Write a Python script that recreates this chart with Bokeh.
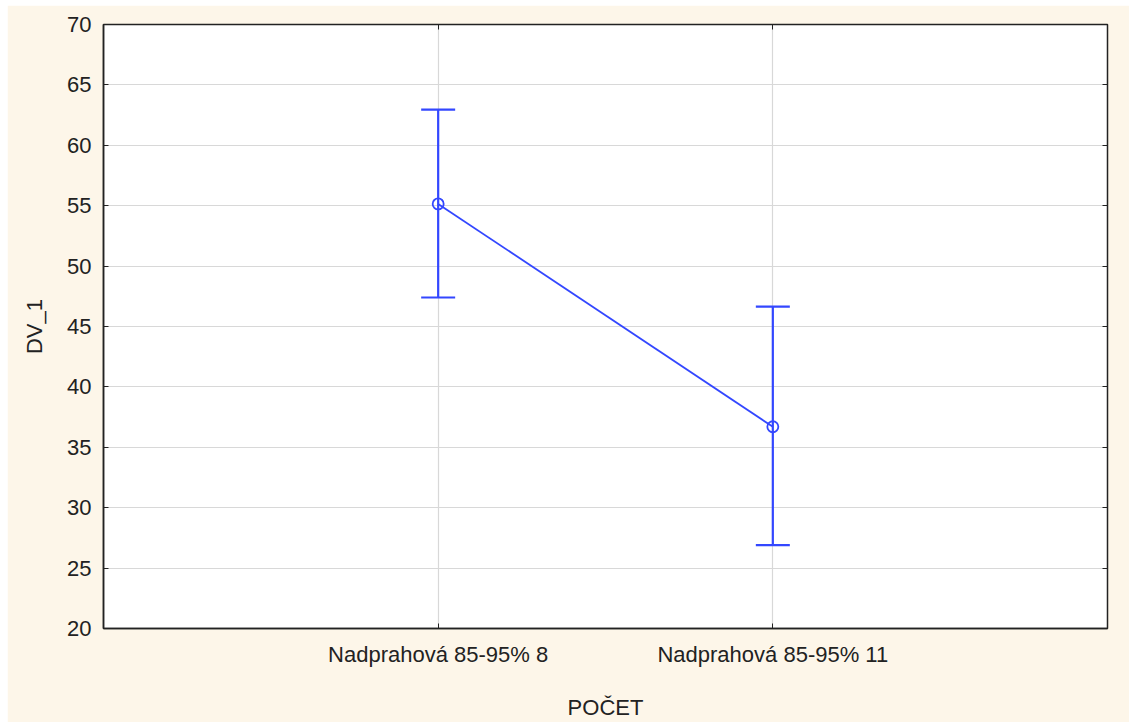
from bokeh.plotting import figure
from bokeh.models import (ColumnDataSource, FixedTicker, LinearAxis, Range1d,
                          Whisker, TeeHead, CustomLabelingPolicy)
from bokeh.embed import file_html
from bokeh.resources import INLINE

# Group means of DV_1 with confidence intervals
categories = ["Nadprahová 85-95% 8", "Nadprahová 85-95% 11"]
means = [55.15, 36.7]
upper = [62.95, 46.65]
lower = [47.4, 26.9]
y_ticks = [20, 25, 30, 35, 40, 45, 50, 55, 60, 65, 70]

xs = list(range(1, len(categories) + 1))
src = ColumnDataSource(dict(x=xs, mean=means, upper=upper, lower=lower))

BLUE = "#3347ff"
CREAM = "#fdf6e9"
INK = "#222222"
FONT = "Liberation Sans"

p = figure(width=1122, height=717, output_backend="svg", toolbar_location=None,
           x_range=Range1d(0, len(categories) + 1), y_range=Range1d(20, 70),
           min_border_left=96, min_border_right=22, min_border_top=19,
           min_border_bottom=94)
p.margin = (5, 0, 0, 7)
p.background_fill_color = "white"
p.border_fill_color = CREAM
p.outline_line_color = INK
p.outline_line_width = 1.5

# grid
p.xgrid.ticker = FixedTicker(ticks=xs)
p.ygrid.ticker = FixedTicker(ticks=y_ticks)
for g in (p.xgrid, p.ygrid):
    g.grid_line_color = "#d8d8d8"
    g.grid_line_width = 1.2

# axes
xa = p.xaxis[0]
xa.ticker = FixedTicker(ticks=xs)
xa.major_label_overrides = {x: c for x, c in zip(xs, categories)}
xa.axis_label = "POČET"
ya = p.yaxis[0]
ya.ticker = FixedTicker(ticks=y_ticks)
ya.axis_label = "DV_1"
for ax in (xa, ya):
    ax.axis_line_color = INK
    ax.axis_line_width = 1.5
    ax.major_tick_in = 5
    ax.major_tick_out = 0
    ax.major_tick_line_color = INK
    ax.minor_tick_line_color = None
    ax.major_label_text_font = FONT
    ax.major_label_text_font_size = "22px"
    ax.major_label_text_color = INK
    ax.axis_label_text_font = FONT
    ax.axis_label_text_font_size = "22px"
    ax.axis_label_text_font_style = "normal"
    ax.axis_label_text_color = INK
xa.major_label_standoff = 13
xa.axis_label_standoff = 25
ya.major_label_standoff = 12
ya.axis_label_standoff = 17

# mirrored tick marks on the top and right edges, without labels
no_labels = CustomLabelingPolicy(code="return new Set()")
ra = LinearAxis(ticker=FixedTicker(ticks=y_ticks), major_label_policy=no_labels,
                major_tick_in=5, major_tick_out=0, minor_tick_line_color=None,
                axis_line_color=INK, major_tick_line_color=INK,
                major_label_standoff=0)
ta = LinearAxis(ticker=FixedTicker(ticks=xs), major_label_policy=no_labels,
                major_tick_in=5, major_tick_out=0, minor_tick_line_color=None,
                axis_line_color=INK, major_tick_line_color=INK,
                major_label_standoff=0)
p.add_layout(ra, "right")
p.add_layout(ta, "above")

# confidence-interval whiskers
w = Whisker(base="x", upper="upper", lower="lower", source=src,
            line_color=BLUE, line_width=2.2,
            upper_head=TeeHead(size=34, line_color=BLUE, line_width=2.2),
            lower_head=TeeHead(size=34, line_color=BLUE, line_width=2.2))
p.add_layout(w)

# mean line and markers
p.line("x", "mean", source=src, line_color=BLUE, line_width=1.8)
p.scatter("x", "mean", source=src, marker="circle", size=11,
          line_color=BLUE, line_width=1.8, fill_color=None)

open("out.html", "w").write(file_html(p, INLINE))
